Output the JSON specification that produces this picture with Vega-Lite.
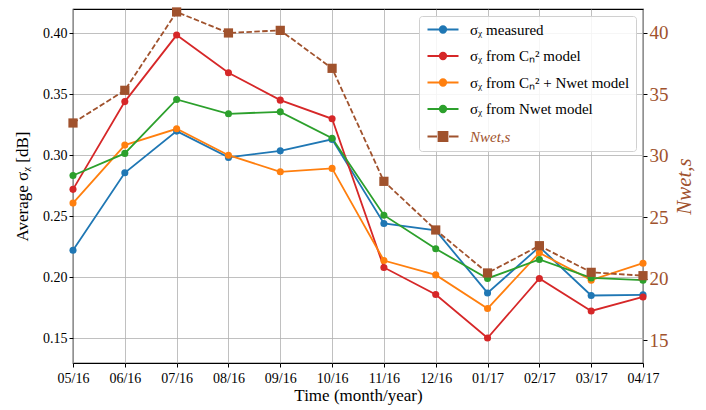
{
  "$schema": "https://vega.github.io/schema/vega-lite/v6.json",
  "width": 570,
  "height": 354,
  "autosize": {"type": "none"},
  "padding": {"left": 73, "top": 9, "right": 63, "bottom": 47},
  "datasets": {
    "rows": [
      {"m": "05/16", "i": 0, "s": "σᵪ measured", "v": 0.222},
      {"m": "06/16", "i": 1, "s": "σᵪ measured", "v": 0.2856},
      {"m": "07/16", "i": 2, "s": "σᵪ measured", "v": 0.3198},
      {"m": "08/16", "i": 3, "s": "σᵪ measured", "v": 0.2982},
      {"m": "09/16", "i": 4, "s": "σᵪ measured", "v": 0.3036},
      {"m": "10/16", "i": 5, "s": "σᵪ measured", "v": 0.313},
      {"m": "11/16", "i": 6, "s": "σᵪ measured", "v": 0.244},
      {"m": "12/16", "i": 7, "s": "σᵪ measured", "v": 0.2383},
      {"m": "01/17", "i": 8, "s": "σᵪ measured", "v": 0.187},
      {"m": "02/17", "i": 9, "s": "σᵪ measured", "v": 0.2248},
      {"m": "03/17", "i": 10, "s": "σᵪ measured", "v": 0.1849},
      {"m": "04/17", "i": 11, "s": "σᵪ measured", "v": 0.1854},
      {"m": "05/16", "i": 0, "s": "σᵪ from Cₙ² model", "v": 0.272},
      {"m": "06/16", "i": 1, "s": "σᵪ from Cₙ² model", "v": 0.344},
      {"m": "07/16", "i": 2, "s": "σᵪ from Cₙ² model", "v": 0.3986},
      {"m": "08/16", "i": 3, "s": "σᵪ from Cₙ² model", "v": 0.3677},
      {"m": "09/16", "i": 4, "s": "σᵪ from Cₙ² model", "v": 0.3452},
      {"m": "10/16", "i": 5, "s": "σᵪ from Cₙ² model", "v": 0.3299},
      {"m": "11/16", "i": 6, "s": "σᵪ from Cₙ² model", "v": 0.2079},
      {"m": "12/16", "i": 7, "s": "σᵪ from Cₙ² model", "v": 0.1857},
      {"m": "01/17", "i": 8, "s": "σᵪ from Cₙ² model", "v": 0.150},
      {"m": "02/17", "i": 9, "s": "σᵪ from Cₙ² model", "v": 0.1989},
      {"m": "03/17", "i": 10, "s": "σᵪ from Cₙ² model", "v": 0.1722},
      {"m": "04/17", "i": 11, "s": "σᵪ from Cₙ² model", "v": 0.1837},
      {"m": "05/16", "i": 0, "s": "σᵪ from Cₙ² + Nwet model", "v": 0.2607},
      {"m": "06/16", "i": 1, "s": "σᵪ from Cₙ² + Nwet model", "v": 0.3083},
      {"m": "07/16", "i": 2, "s": "σᵪ from Cₙ² + Nwet model", "v": 0.3217},
      {"m": "08/16", "i": 3, "s": "σᵪ from Cₙ² + Nwet model", "v": 0.300},
      {"m": "09/16", "i": 4, "s": "σᵪ from Cₙ² + Nwet model", "v": 0.2864},
      {"m": "10/16", "i": 5, "s": "σᵪ from Cₙ² + Nwet model", "v": 0.2892},
      {"m": "11/16", "i": 6, "s": "σᵪ from Cₙ² + Nwet model", "v": 0.2136},
      {"m": "12/16", "i": 7, "s": "σᵪ from Cₙ² + Nwet model", "v": 0.2018},
      {"m": "01/17", "i": 8, "s": "σᵪ from Cₙ² + Nwet model", "v": 0.1742},
      {"m": "02/17", "i": 9, "s": "σᵪ from Cₙ² + Nwet model", "v": 0.2199},
      {"m": "03/17", "i": 10, "s": "σᵪ from Cₙ² + Nwet model", "v": 0.1975},
      {"m": "04/17", "i": 11, "s": "σᵪ from Cₙ² + Nwet model", "v": 0.2114},
      {"m": "05/16", "i": 0, "s": "σᵪ from Nwet model", "v": 0.2834},
      {"m": "06/16", "i": 1, "s": "σᵪ from Nwet model", "v": 0.3015},
      {"m": "07/16", "i": 2, "s": "σᵪ from Nwet model", "v": 0.3458},
      {"m": "08/16", "i": 3, "s": "σᵪ from Nwet model", "v": 0.334},
      {"m": "09/16", "i": 4, "s": "σᵪ from Nwet model", "v": 0.3356},
      {"m": "10/16", "i": 5, "s": "σᵪ from Nwet model", "v": 0.314},
      {"m": "11/16", "i": 6, "s": "σᵪ from Nwet model", "v": 0.2508},
      {"m": "12/16", "i": 7, "s": "σᵪ from Nwet model", "v": 0.2232},
      {"m": "01/17", "i": 8, "s": "σᵪ from Nwet model", "v": 0.1989},
      {"m": "02/17", "i": 9, "s": "σᵪ from Nwet model", "v": 0.2145},
      {"m": "03/17", "i": 10, "s": "σᵪ from Nwet model", "v": 0.1993},
      {"m": "04/17", "i": 11, "s": "σᵪ from Nwet model", "v": 0.1975},
      {"m": "05/16", "i": 0, "s": "Nwet,s", "v": 32.67},
      {"m": "06/16", "i": 1, "s": "Nwet,s", "v": 35.33},
      {"m": "07/16", "i": 2, "s": "Nwet,s", "v": 41.71},
      {"m": "08/16", "i": 3, "s": "Nwet,s", "v": 40.0},
      {"m": "09/16", "i": 4, "s": "Nwet,s", "v": 40.21},
      {"m": "10/16", "i": 5, "s": "Nwet,s", "v": 37.12},
      {"m": "11/16", "i": 6, "s": "Nwet,s", "v": 27.92},
      {"m": "12/16", "i": 7, "s": "Nwet,s", "v": 23.96},
      {"m": "01/17", "i": 8, "s": "Nwet,s", "v": 20.46},
      {"m": "02/17", "i": 9, "s": "Nwet,s", "v": 22.68},
      {"m": "03/17", "i": 10, "s": "Nwet,s", "v": 20.51},
      {"m": "04/17", "i": 11, "s": "Nwet,s", "v": 20.24}
    ]
  },
  "data": {"name": "rows"},
  "encoding": {
    "x": {
      "field": "m",
      "type": "ordinal",
      "scale": {"type": "point", "padding": 0, "domain": ["05/16","06/16","07/16","08/16","09/16","10/16","11/16","12/16","01/17","02/17","03/17","04/17"]},
      "axis": {"title": "Time (month/year)", "labelAngle": 0, "grid": true, "labelFont": "Liberation Serif", "labelFontSize": 14, "titleFontSize": 17, "titlePadding": 2, "labelPadding": 4}
    },
    "order": {"field": "i", "type": "quantitative"},
    "color": {
      "field": "s",
      "type": "nominal",
      "scale": {
        "domain": ["σᵪ measured", "σᵪ from Cₙ² model", "σᵪ from Cₙ² + Nwet model", "σᵪ from Nwet model", "Nwet,s"],
        "range": ["#1f77b4", "#d62728", "#ff7f0e", "#2ca02c", "#a0522d"]
      },
      "legend": {
        "title": null,
        "orient": "top-right",
        "offset": 7,
        "padding": 6,
        "fillColor": "rgba(255,255,255,0.85)",
        "strokeColor": "#d0d0d0",
        "cornerRadius": 3,
        "labelFont": "Liberation Serif",
        "labelFontSize": 15,
        "labelColor": "black",
        "labelOffset": 30,
        "labelLimit": 400,
        "symbolSize": 100,
        "symbolStrokeWidth": 1.8,
        "rowPadding": 10.5,
        "encode": {
          "symbols": {
            "update": {
              "shape": {"signal": "datum.index === 4 ? 'M-1,0L0.9,0M3.3,0L5.2,0M1.2,-0.9L3.0,-0.9L3.0,0.9L1.2,0.9Z' : 'M-1,0L5.2,0M1.45,0A0.65,0.65 0 1,0 2.75,0A0.65,0.65 0 1,0 1.45,0Z'"},
              "fill": {"signal": "scale('color', datum.value)"},
              "stroke": {"signal": "scale('color', datum.value)"},
              "strokeWidth": {"value": 1.8},
              "opacity": {"value": 1},
              "fillOpacity": {"value": 1}
            }
          },
          "labels": {
            "update": {
              "fill": {"signal": "datum.index === 4 ? '#a0522d' : 'black'"},
              "fontStyle": {"signal": "datum.index === 4 ? 'italic' : 'normal'"}
            }
          }
        }
      }
    }
  },
  "layer": [
    {
      "transform": [{"filter": "datum.s !== 'Nwet,s'"}],
      "encoding": {
        "y": {
          "field": "v",
          "type": "quantitative",
          "scale": {"domain": [0.1295, 0.42], "nice": false, "zero": false},
          "axis": {"title": "Average σᵪ [dB]", "values": [0.15, 0.2, 0.25, 0.3, 0.35, 0.4], "format": ".2f", "grid": true, "labelFont": "Liberation Serif", "labelFontSize": 14, "titleFontSize": 17, "titlePadding": 11}
        }
      },
      "layer": [
        {"mark": {"type": "line", "strokeWidth": 1.8}},
        {"mark": {"type": "point", "filled": true, "size": 50, "opacity": 1}}
      ]
    },
    {
      "transform": [{"filter": "datum.s === 'Nwet,s'"}],
      "encoding": {
        "y": {
          "field": "v",
          "type": "quantitative",
          "scale": {"domain": [13.13, 41.95], "nice": false, "zero": false},
          "axis": {"orient": "right", "title": "Nwet,s", "values": [15, 20, 25, 30, 35, 40], "grid": false, "labelFont": "Liberation Serif", "labelFontSize": 19, "labelColor": "#a0522d", "titleColor": "#a0522d", "titleFontStyle": "italic", "titleFontSize": 21, "titleAngle": 270, "titleBaseline": "top", "titlePadding": 5}
        }
      },
      "layer": [
        {"mark": {"type": "line", "strokeWidth": 1.8, "strokeDash": [5.5, 2.4]}},
        {"mark": {"type": "square", "size": 85, "opacity": 1}}
      ]
    }
  ],
  "resolve": {"scale": {"y": "independent"}},
  "config": {
    "font": "Liberation Serif",
    "view": {"stroke": "black", "strokeWidth": 1.2},
    "axis": {
      "labelFont": "Liberation Serif",
      "titleFont": "Liberation Serif",
      "labelColor": "black",
      "titleColor": "black",
      "titleFontWeight": "normal",
      "tickColor": "black",
      "tickSize": 4,
      "domain": false,
      "gridColor": "#b0b0b0",
      "gridWidth": 0.8,
      "gridOpacity": 1
    }
  }
}
